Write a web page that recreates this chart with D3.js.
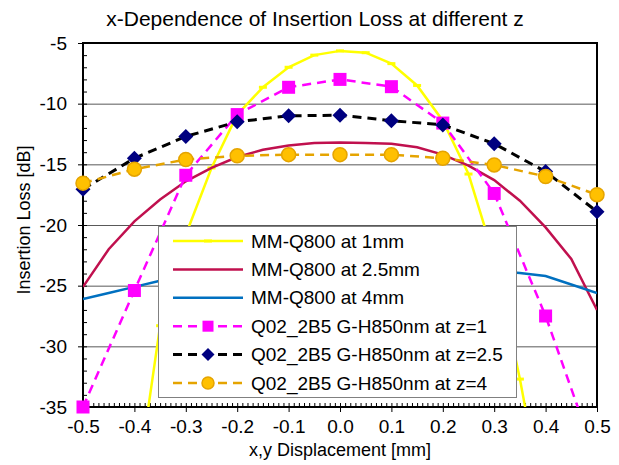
<!DOCTYPE html>
<html>
<head>
<meta charset="utf-8">
<script src="https://cdn.jsdelivr.net/npm/d3@7"></script>
<style>
  body { margin: 0; background: #fff; }
  svg { font-family: 'Liberation Sans', Arial, sans-serif; }
  .axis path, .axis line { stroke: #000; }
  .grid line { stroke: #595959; }
  .grid path { display: none; }
</style>
</head>
<body>
<div id="chart"></div>
<script>
// x positions of the simulated curves (every 0.05 mm) and measurements (every 0.1 mm)
const xSim = [-0.5, -0.45, -0.4, -0.35, -0.3, -0.25, -0.2, -0.15, -0.1, -0.05, 0,
  0.05, 0.1, 0.15, 0.2, 0.25, 0.3, 0.35, 0.4, 0.45, 0.5]
const xMeas = [-0.5, -0.4, -0.3, -0.2, -0.1, 0, 0.1, 0.2, 0.3, 0.4, 0.5]

const mm1 = [-62, -53, -43, -28.3, -20.8, -15.3, -10.9, -8.65, -7.0, -6.0, -5.65,
  -5.8, -6.7, -8.5, -11.4, -15.8, -22.7, -32.7, -44, -54, -63]
const mm25 = [-25.1, -22.0, -19.7, -17.9, -16.4, -15.3, -14.4, -13.8, -13.45, -13.25, -13.2,
  -13.25, -13.3, -13.6, -14.2, -15.1, -16.3, -18.0, -20.2, -22.8, -27.0]
const mm4 = [-26.1, -25.6, -25.1, -24.6, -24.2, -23.9, -23.6, -23.4, -23.3, -23.2, -23.2,
  -23.2, -23.3, -23.4, -23.5, -23.7, -23.8, -23.95, -24.2, -24.9, -25.6]
const q1 = [-35.0, -25.4, -15.9, -10.9, -8.65, -8.0, -8.6, -11.6, -17.4, -27.5, -39.5]
const q25 = [-17.05, -14.5, -12.7, -11.5, -11.0, -10.95, -11.4, -11.75, -13.3, -15.6, -18.9]
const q4 = [-16.55, -15.4, -14.6, -14.3, -14.2, -14.2, -14.2, -14.5, -15.05, -16.0, -17.5]

const xTicks = [-0.5, -0.4, -0.3, -0.2, -0.1, 0, 0.1, 0.2, 0.3, 0.4, 0.5]
const yTicks = [-5, -10, -15, -20, -25, -30, -35]
const seriesNames = ['MM-Q800 at 1mm', 'MM-Q800 at 2.5mm', 'MM-Q800 at 4mm',
  'Q02_2B5 G-H850nm at z=1', 'Q02_2B5 G-H850nm at z=2.5', 'Q02_2B5 G-H850nm at z=4']

const series = [
  {name: seriesNames[0], xs: xSim, ys: mm1, color: '#FFFF00', dash: null, marker: 'dash', width: 2.5},
  {name: seriesNames[1], xs: xSim, ys: mm25, color: '#C0104E', dash: null, marker: null, width: 2.5},
  {name: seriesNames[2], xs: xSim, ys: mm4, color: '#0070C0', dash: null, marker: null, width: 2.5},
  {name: seriesNames[3], xs: xMeas, ys: q1, color: '#FF00FF', dash: '9,6', marker: 'square',
    fill: '#FF00FF', stroke: '#FF00FF', width: 2.5},
  {name: seriesNames[4], xs: xMeas, ys: q25, color: '#000000', dash: '9,6', marker: 'diamond',
    fill: '#000080', stroke: '#000080', width: 3},
  {name: seriesNames[5], xs: xMeas, ys: q4, color: '#E5A400', dash: '9,6', marker: 'circle',
    fill: '#FFC000', stroke: '#E5A400', width: 2.5}
]

const width = 619, height = 465
const plot = {left: 83, right: 597, top: 43, bottom: 407}

const x = d3.scaleLinear().domain([-0.5, 0.5]).range([plot.left, plot.right])
const y = d3.scaleLinear().domain([-35, -5]).range([plot.bottom, plot.top])

const svg = d3.select('#chart').append('svg')
  .attr('width', width)
  .attr('height', height)

svg.append('defs').append('clipPath')
  .attr('id', 'plot-clip')
  .append('rect')
  .attr('x', plot.left)
  .attr('y', plot.top)
  .attr('width', plot.right - plot.left)
  .attr('height', plot.bottom - plot.top)

// horizontal gridlines
svg.append('g')
  .classed('grid', true)
  .attr('transform', `translate(${plot.left},0)`)
  .call(d3.axisLeft(y).tickValues(yTicks.slice(1, -1)).tickSize(-(plot.right - plot.left)).tickFormat(''))

// minor ticks, pointing into the plot
svg.append('g')
  .classed('axis', true)
  .attr('transform', `translate(${plot.left},0)`)
  .call(d3.axisRight(y).tickValues(d3.range(-35, -4, 1)).tickSize(4).tickFormat(''))
  .call(g => g.select('.domain').remove())
svg.append('g')
  .classed('axis', true)
  .attr('transform', `translate(0,${plot.bottom})`)
  .call(d3.axisTop(x).tickValues(d3.range(-50, 51).map(d => d / 100)).tickSize(4).tickFormat(''))
  .call(g => g.select('.domain').remove())

// major axes
svg.append('g')
  .classed('axis', true)
  .attr('transform', `translate(${plot.left},0)`)
  .call(d3.axisLeft(y).tickValues(yTicks).tickSize(5).tickSizeOuter(0).tickPadding(11).tickFormat(d => String(d)))
svg.append('g')
  .classed('axis', true)
  .attr('transform', `translate(0,${plot.bottom})`)
  .call(d3.axisBottom(x).tickValues(xTicks).tickSize(5).tickSizeOuter(0).tickPadding(8).tickFormat(d => d.toFixed(1)))
svg.selectAll('.axis text')
  .style('font-size', '19px')
  .style('font-family', "'Liberation Sans', Arial, sans-serif")
  .attr('fill', '#000')

// plot frame
svg.append('rect')
  .attr('x', plot.left)
  .attr('y', plot.top)
  .attr('width', plot.right - plot.left)
  .attr('height', plot.bottom - plot.top)
  .attr('fill', 'none')
  .attr('stroke', '#000')
  .attr('stroke-width', 2)

const line = d3.line()
  .x(d => x(d[0]))
  .y(d => y(d[1]))

function drawMarker(g, type, cx, cy, s, fill, stroke) {
  if (type === 'square') {
    g.append('rect')
      .attr('x', cx - s / 2).attr('y', cy - s / 2)
      .attr('width', s).attr('height', s)
      .attr('fill', fill)
  } else if (type === 'diamond') {
    g.append('path')
      .attr('d', `M${cx},${cy - s / 2}L${cx + s / 2},${cy}L${cx},${cy + s / 2}L${cx - s / 2},${cy}Z`)
      .attr('fill', fill)
  } else if (type === 'circle') {
    g.append('circle')
      .attr('cx', cx).attr('cy', cy).attr('r', s / 2)
      .attr('fill', fill)
      .attr('stroke', stroke)
      .attr('stroke-width', 1.5)
  } else if (type === 'dash') {
    g.append('line')
      .attr('x1', cx - 4).attr('x2', cx + 4)
      .attr('y1', cy).attr('y2', cy)
      .attr('stroke', stroke)
      .attr('stroke-width', 3)
  }
}

const markerSize = {square: 13, diamond: 15, circle: 14}
const dataLayer = svg.append('g')

series.forEach(s => {
  const pts = s.xs.map((v, i) => [v, s.ys[i]])
  const g = dataLayer.append('g')
  g.append('path')
    .datum(pts)
    .attr('clip-path', 'url(#plot-clip)')
    .attr('d', line)
    .attr('fill', 'none')
    .attr('stroke', s.color)
    .attr('stroke-width', s.width)
    .attr('stroke-dasharray', s.dash)
  if (s.marker) {
    pts.filter(p => p[1] >= -35 && p[1] <= -5).forEach(p => {
      drawMarker(g, s.marker, x(p[0]), y(p[1]), markerSize[s.marker], s.fill, s.stroke || s.color)
    })
  }
})

// legend
const legend = svg.append('g')
legend.append('rect')
  .attr('x', 158.5).attr('y', 226.5)
  .attr('width', 358).attr('height', 171)
  .attr('fill', '#fff')
  .attr('stroke', '#808080')
const legendMarker = {square: 11, diamond: 13, circle: 12}
series.forEach((s, i) => {
  const ly = 241 + i * 28.4
  legend.append('line')
    .attr('x1', 173).attr('x2', 243)
    .attr('y1', ly).attr('y2', ly)
    .attr('stroke', s.color)
    .attr('stroke-width', s.width)
    .attr('stroke-dasharray', s.dash)
  if (s.marker) drawMarker(legend, s.marker, 208, ly, legendMarker[s.marker], s.fill, s.stroke || s.color)
  legend.append('text')
    .attr('x', 251).attr('y', ly)
    .attr('dy', '0.35em')
    .style('font-size', '19px')
    .text(s.name)
})

// titles
svg.append('text')
  .attr('x', 315).attr('y', 26)
  .attr('text-anchor', 'middle')
  .style('font-size', '21px')
  .text('x-Dependence of Insertion Loss at different z')
svg.append('text')
  .attr('x', 340).attr('y', 456)
  .attr('text-anchor', 'middle')
  .style('font-size', '18px')
  .text('x,y Displacement [mm]')
svg.append('text')
  .attr('transform', 'translate(24,220) rotate(-90)')
  .attr('text-anchor', 'middle')
  .attr('dy', '0.35em')
  .style('font-size', '18px')
  .text('Insertion Loss [dB]')
</script>
</body>
</html>
